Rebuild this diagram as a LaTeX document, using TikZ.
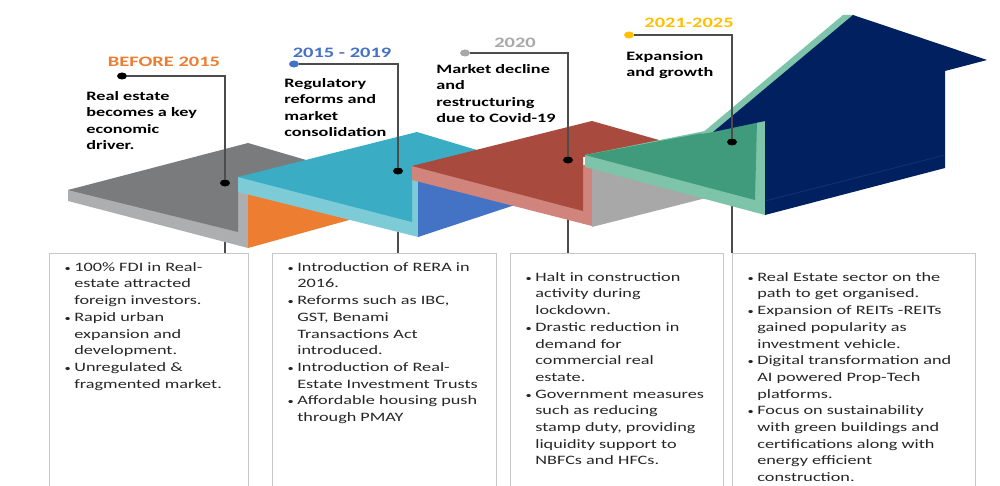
\documentclass[tikz,border=0pt]{standalone}
\usepackage{fontspec}
\setmainfont{Carlito}[FakeStretch=1.42]
\usetikzlibrary{positioning,shapes.geometric}

\definecolor{stoneTop}{RGB}{121,123,124}
\definecolor{stoneEdge}{RGB}{172,174,175}
\definecolor{rustOrange}{RGB}{237,125,49}
\definecolor{tealTop}{RGB}{58,172,196}
\definecolor{tealEdge}{RGB}{126,203,216}
\definecolor{royalBlue}{RGB}{68,114,196}
\definecolor{brickTop}{RGB}{168,75,62}
\definecolor{brickEdge}{RGB}{208,132,124}
\definecolor{ashSide}{RGB}{168,168,168}
\definecolor{jadeTop}{RGB}{64,155,125}
\definecolor{jadeEdge}{RGB}{126,196,170}
\definecolor{navyHouse}{RGB}{0,32,96}
\definecolor{navyLine}{RGB}{24,52,112}
\definecolor{goldDot}{RGB}{255,192,0}

\tikzset{%
   dot/.style={
      ellipse,
      inner sep=0mm,
      minimum width=2mm,
      minimum height=1.4mm,
      fill=black
   },
   conn/.style={
      draw=black!70,
      line width=0.65pt
   },
   card/.style={
      draw=black!22,
      line width=0.8pt,
      anchor=north west,
      minimum height=50mm,
      inner sep=0pt
   },
   year/.style={
      font=\fontsize{8.2}{9.8}\selectfont\bfseries
   },
   headline/.style={
      anchor=north west,
      inner sep=0pt,
      align=left,
      font=\fontsize{7.3}{9.3}\selectfont\bfseries
   },
   points/.style={
      anchor=north west,
      inner sep=0pt,
      align=left,
      text=black!85,
      font=\fontsize{7.3}{9.5}\selectfont
   },
}
\newcommand{\bul}{\llap{{\fontsize{5}{5}\selectfont\textbullet}\hspace{2pt}}}

\begin{document}
\begin{tikzpicture}[x=0.2mm, y=-0.2mm]
   \clip (0,0) rectangle (1000,486);

   % cards under the stairs
   \node[card, minimum width=39.8mm] (box1) at (49,253) {};
   \node[card, minimum width=44.8mm] (box2) at (272,253) {};
   \node[card, minimum width=42.6mm] (box3) at (510,253) {};
   \node[card, minimum width=48.6mm] (box4) at (732,253) {};

   % leader ends on the treads
   \coordinate (t1) at (225,183);
   \coordinate (t2) at (398,171);
   \coordinate (t3) at (568,160);
   \coordinate (t4) at (732,142);
   \foreach \i in {1,...,4}
      \draw[conn] (t\i) -- (t\i |- box\i.north);

   % step 1
   \fill[stoneEdge] (68,190) -- (68,201) -- (248,248) -- (248,185) -- (238,185) -- cycle;
   \fill[stoneTop] (68,190) -- (248,143) -- (330,167) -- (238,178) -- (238,232) -- cycle;
   \fill[rustOrange] (248,185) -- (248,248) -- (360,217) -- (360,190) -- cycle;

   % step 2
   \fill[tealEdge] (238,177) -- (238,192) -- (418,237) -- (418,172) -- (412,172) -- cycle;
   \fill[tealTop] (238,177) -- (417,132) -- (500,157) -- (412,167) -- (412,222) -- cycle;
   \fill[royalBlue] (418,175) -- (418,237) -- (530,200) -- (530,185) -- cycle;

   % step 3
   \fill[brickEdge] (412,166) -- (412,180) -- (592,226) -- (592,165) -- (583,165) -- cycle;
   \fill[brickTop] (412,166) -- (592,121) -- (680,146) -- (583,157) -- (583,211) -- cycle;
   \fill[ashSide] (592,165) -- (592,227) -- (710,197) -- (710,175) -- cycle;

   % step 4 and the house
   \fill[jadeEdge] (585,155) -- (585,167) -- (765,215) -- (765,121) -- (755,121) -- cycle;
   \fill[jadeTop] (585,155) -- (703,133) -- (713,132) -- (757,121) -- (755,200) -- cycle;
   \fill[jadeEdge] (701,134) -- (843,15) -- (854,15) -- (713,132) -- cycle;
   \fill[navyHouse] (713,132) -- (853,15) -- (987,60) -- (945,71) -- (945,168)
      -- (765,215) -- (765,121) -- cycle;
   \draw[navyLine, line width=0.4pt] (765,201) -- (945,155);

   % year markers
   \node[dot] (a1) at (122,76) {};
   \node[dot, fill=royalBlue] (a2) at (294,64) {};
   \node[dot, fill=ashSide] (a3) at (465,53) {};
   \node[dot, fill=goldDot] (a4) at (629,35) {};
   \foreach \i in {1,...,4} {
      \node[dot] (b\i) at (t\i) {};
      \draw[conn] (a\i) -| (b\i);
   }

   \node[year, text=rustOrange] (y1) at (164,62) {BEFORE 2015};
   \node[year, text=royalBlue] (y2) at (342,53) {2015 - 2019};
   \node[year, text=ashSide] (y3) at (515,43) {2020};
   \node[year, text=goldDot] (y4) at (689,23) {2021-2025};

   \node[headline] (h1) at (86,91) {Real estate\\becomes a key\\economic\\driver.};
   \node[headline] (h2) at (284,78) {Regulatory\\reforms and\\market\\consolidation};
   \node[headline] (h3) at (436,64) {Market decline\\and\\restructuring\\due to Covid-19};
   \node[headline] (h4) at (626,51) {Expansion\\and growth};

   % bullet lists
   \node[points, below right=1.8mm and 5mm of box1.north west] (p1)
      {\bul 100\% FDI in Real-\\estate attracted\\foreign investors.\\\bul Rapid urban\\expansion and\\development.\\\bul Unregulated \&\\fragmented market.};
   \node[points, below right=1.8mm and 5mm of box2.north west] (p2)
      {\bul Introduction of RERA in\\2016.\\\bul Reforms such as IBC,\\GST, Benami\\Transactions Act\\introduced.\\\bul Introduction of Real-\\Estate Investment Trusts\\\bul Affordable housing push\\through PMAY};
   \node[points, below right=3.8mm and 5mm of box3.north west] (p3)
      {\bul Halt in construction\\activity during\\lockdown.\\\bul Drastic reduction in\\demand for\\commercial real\\estate.\\\bul Government measures\\such as reducing\\stamp duty, providing\\liquidity support to\\NBFCs and HFCs.};
   \node[points, below right=3.8mm and 5mm of box4.north west] (p4)
      {\bul Real Estate sector on the\\path to get organised.\\\bul Expansion of REITs -REITs\\gained popularity as\\investment vehicle.\\\bul Digital transformation and\\AI powered Prop-Tech\\platforms.\\\bul Focus on sustainability\\with green buildings and\\certifications along with\\energy efficient\\construction.};
\end{tikzpicture}
\end{document}
